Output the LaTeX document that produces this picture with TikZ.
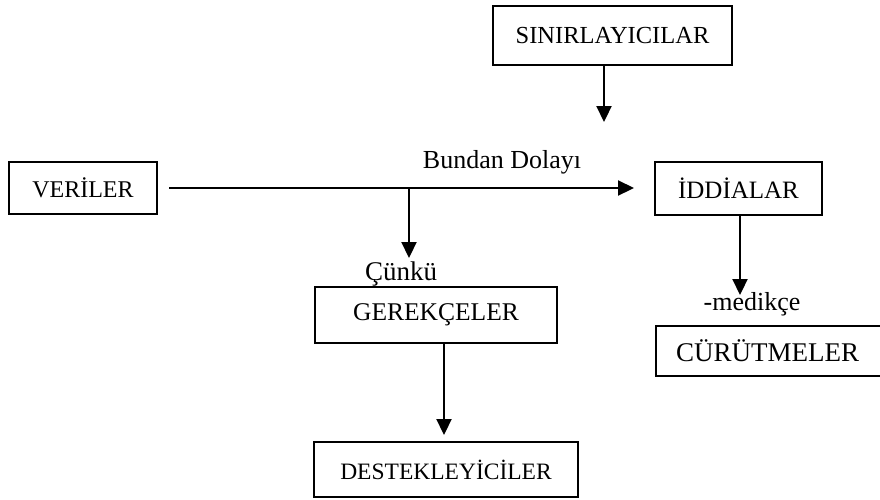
\documentclass[tikz,border=0pt]{standalone}
\usepackage{fontspec}
\setmainfont{Liberation Serif}
\usetikzlibrary{arrows.meta}
\tikzset{
  boxnode/.style={draw, line width=2pt, inner sep=0pt, align=center},
  fs/.style={font=\fontsize{#1}{#1}\selectfont},
  arr/.style={line width=2.2pt, -{Triangle[length=16pt,width=15pt]}},
  lbl/.style={inner sep=0pt, anchor=base}
}
\begin{document}
\begin{tikzpicture}[x=1pt,y=-1pt]
\useasboundingbox (0,0) rectangle (880,499);
\clip (0,0) rectangle (880,499);
% boxes
\node[boxnode, fs=24.5, minimum width=239pt, minimum height=59pt] (sin) at (612.5,35.5) {SINIRLAYICILAR};
\node[boxnode, fs=24, minimum width=148pt, minimum height=52pt] (ver) at (83,188) {VERİLER};
\node[boxnode, fs=25, minimum width=167pt, minimum height=53pt] (idd) at (738.5,188) {İDDİALAR};
\node[boxnode, fs=25.5, minimum width=242pt, minimum height=56pt] (ger) at (436,315) {GEREKÇELER};
\node[boxnode, fs=23.5, minimum width=264pt, minimum height=55pt] (des) at (446,469.5) {DESTEKLEYİCİLER};
\node[boxnode, fs=27, anchor=west, text width=220pt, align=left, inner xsep=20pt, minimum height=50pt] (cur) at (655,351) {CÜRÜTMELER};
% labels
\node[lbl, fs=26] (bd) at (502,168) {Bundan Dolayı};
\node[lbl, fs=27] (cn) at (401,280) {Çünkü};
\node[lbl, fs=26] (md) at (752,310.5) {-medikçe};
% coordinates
\coordinate (tS) at (604,122);
\coordinate (br) at (409,188);
\coordinate (tG) at (409,258);
\coordinate (tD) at (444,435);
\coordinate (tC) at (740,295);
% connectors
\draw[arr] (sin.south -| tS) -- (tS);
\draw[arr, shorten <=11pt, shorten >=20pt] (ver) -- (idd);
\draw[arr] (br) -- (tG);
\draw[arr] (ger.south -| tD) -- (tD);
\draw[arr] (idd.south -| tC) -- (tC);
\end{tikzpicture}
\end{document}
